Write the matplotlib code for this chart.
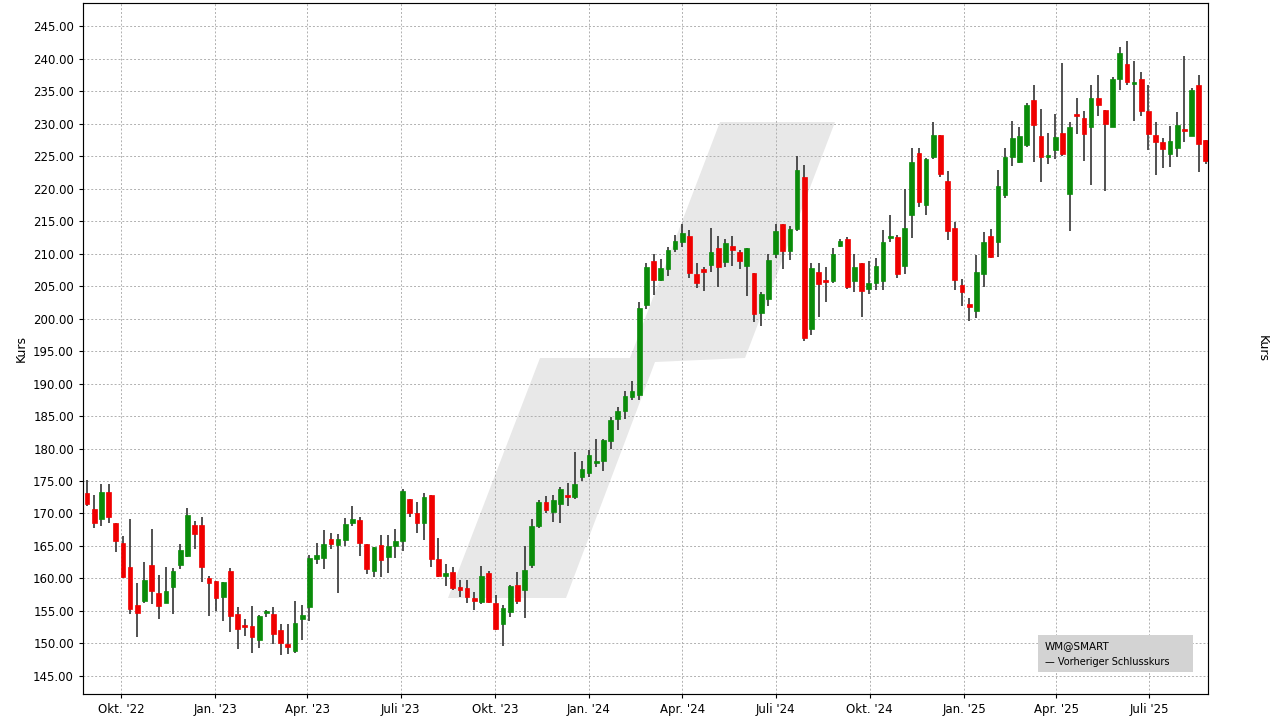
import matplotlib
matplotlib.use("Agg")
import matplotlib.pyplot as plt
import matplotlib.dates as mdates
from matplotlib.patches import Polygon, Rectangle
import numpy as np
import pandas as pd

start_date = "2022-08-29"
opens = [173.2,170.7,169.1,173.3,168.5,165.5,161.7,155.9,156.6,162.1,157.7,156.3,158.7,162.1,163.5,168.2,168.2,160.0,159.6,157.2,161.2,154.6,152.8,152.7,150.6,154.7,154.6,152.1,
         149.9,148.9,153.7,155.6,163.0,163.1,166.0,165.2,165.9,168.5,169.0,165.3,161.2,165.1,163.3,165.0,165.7,172.2,170.0,168.5,172.8,163.0,160.4,161.0,158.7,158.5,156.9,
         156.4,160.9,156.2,153.0,154.9,159.0,158.3,162.1,168.1,171.7,170.3,171.4,172.9,172.6,175.6,176.3,177.8,178.1,181.1,184.5,185.7,188.0,188.2,202.1,208.9,206.0,
         207.6,210.7,211.7,212.7,206.8,207.5,208.2,210.8,208.7,211.1,210.2,208.1,207.0,200.8,203.0,210.0,214.5,210.4,213.7,221.7,198.4,207.1,205.7,205.8,211.2,212.2,
         205.8,208.6,204.5,205.5,205.7,212.4,212.6,208.1,215.9,225.5,217.4,224.9,228.3,221.2,213.9,205.2,202.2,201.2,206.8,212.7,211.7,219.0,224.9,224.1,
         226.7,233.6,228.1,224.8,225.9,228.5,219.2,231.3,230.8,229.4,233.9,232.1,229.5,236.9,239.1,236.1,236.8,231.9,228.3,227.1,225.3,226.2,229.0,228.1,236.0,227.5]
highs = [175.2,172.8,174.5,174.6,168.5,166.5,169.1,159.3,162.6,167.6,160.5,161.7,161.6,165.3,170.8,168.9,169.5,160.4,159.6,159.5,161.6,155.6,153.7,155.7,154.4,155.2,155.6,153.0,
         153.0,156.6,155.9,163.6,165.4,167.5,167.0,166.8,169.3,171.1,169.5,165.3,164.9,166.7,166.7,167.6,173.7,172.2,171.7,173.2,172.8,166.3,162.2,161.7,159.7,159.8,157.9,
         161.9,161.2,157.5,155.9,159.0,161.0,165.0,169.1,172.1,172.7,172.9,174.0,174.7,179.5,178.1,179.8,181.5,181.5,184.9,186.4,188.9,190.4,202.6,208.6,209.9,209.1,
         211.0,212.9,214.5,213.6,208.5,208.0,214.0,212.7,212.3,212.7,210.5,210.8,207.0,204.1,209.9,214.5,214.5,214.2,225.0,223.6,208.5,208.5,207.9,210.8,212.3,212.5,
         210.0,208.6,208.9,209.3,213.6,216.0,212.8,219.9,226.3,226.3,224.7,230.3,228.3,222.7,214.8,206.1,203.1,209.7,213.3,213.7,222.8,226.2,230.4,229.5,
         233.1,235.9,232.2,228.6,231.5,239.3,230.3,233.9,231.9,236.0,237.4,232.1,237.2,241.7,242.7,239.6,237.9,236.0,230.2,227.8,229.6,231.7,240.4,235.5,237.4,227.5]
lows = [171.2,167.7,168.0,168.6,164.0,160.0,154.6,151.0,156.3,156.0,153.7,156.3,154.5,161.4,163.3,164.5,159.4,154.3,155.0,153.4,151.7,149.1,151.1,148.5,149.3,154.1,149.9,148.2,
        148.4,148.5,150.5,153.5,162.2,161.4,164.5,157.8,165.0,168.0,163.5,160.7,160.2,160.2,160.9,163.1,164.3,169.5,167.0,165.9,161.7,160.3,158.8,158.2,157.1,156.3,155.1,
        156.1,156.3,152.0,149.6,154.0,156.0,153.9,161.6,167.7,170.0,168.7,168.6,171.1,172.2,175.0,175.6,177.1,176.6,180.0,182.8,184.6,187.4,187.5,201.4,203.6,205.7,
        206.5,210.3,211.0,206.3,204.7,204.3,207.2,204.9,208.0,208.1,207.6,203.5,199.5,198.8,202.0,209.3,207.6,209.0,213.4,196.5,197.4,200.3,202.6,205.5,211.0,204.6,
        204.1,200.2,203.8,204.4,204.4,211.7,206.3,206.8,212.4,217.1,216.0,224.5,221.8,212.1,204.4,202.0,199.6,200.1,204.9,209.3,209.4,218.5,223.5,224.0,
        226.4,224.1,221.0,223.8,224.5,225.0,213.5,228.4,224.2,220.5,231.2,219.6,229.5,235.2,235.9,230.4,231.1,225.9,222.1,223.1,223.3,224.9,227.1,228.1,222.5,223.7]
closes = [171.5,168.5,173.3,169.4,165.8,160.3,155.3,154.7,159.8,158.0,155.8,158.1,161.2,164.4,169.8,166.8,161.8,159.3,157.0,159.5,154.3,152.2,152.5,151.0,154.2,154.9,151.4,150.1,
          149.4,153.1,154.4,163.1,163.6,165.3,165.3,166.0,168.4,169.1,165.4,161.4,164.9,162.8,165.0,165.7,173.4,170.0,168.6,172.5,163.0,160.4,160.9,158.5,158.2,157.1,156.6,
          160.4,156.4,152.3,155.5,158.8,156.6,161.3,168.1,171.8,170.6,172.0,173.8,172.5,174.5,176.9,179.0,178.0,181.3,184.4,185.8,188.1,188.8,201.6,208.0,205.9,207.7,
          210.5,211.9,213.1,207.0,205.5,207.2,210.2,207.9,211.6,210.5,208.8,210.8,200.7,203.7,209.0,213.5,210.4,213.8,222.8,197.0,207.7,205.3,205.6,210.0,212.0,204.9,
          208.0,204.3,205.5,208.1,211.8,212.7,206.8,214.0,224.1,218.0,224.5,228.2,222.3,213.4,205.9,204.1,201.8,207.2,211.7,209.5,220.4,224.9,227.7,228.1,
          232.9,229.7,224.9,225.0,227.9,225.3,229.4,231.1,228.4,233.9,232.9,229.9,236.8,240.9,236.4,236.4,231.9,228.4,227.2,226.1,227.3,229.8,228.8,235.2,226.9,224.2]

tick_dates = ["2022-10-01","2023-01-01","2023-04-01","2023-07-01","2023-10-01","2024-01-01","2024-04-01",
              "2024-07-01","2024-10-01","2025-01-01","2025-04-01","2025-07-01"]
tick_labels = ["Okt. '22","Jan. '23","Apr. '23","Juli '23","Okt. '23","Jan. '24","Apr. '24",
               "Juli '24","Okt. '24","Jan. '25","Apr. '25","Juli '25"]
y_ticks = np.arange(145, 246, 5)

W, H = 1281, 719
fig = plt.figure(figsize=(W/100, H/100), dpi=100)
ax = fig.add_axes([83/W, 1-694/H, (1208-83)/W, (694-3)/H])

dates = pd.date_range(start_date, periods=len(opens), freq="7D")
x = mdates.date2num(dates)
o, h, l, c = map(np.array, (opens, highs, lows, closes))
up = c >= o
cols = np.where(up, "#0a8c0a", "#f00000")
ax.vlines(x, l, h, color="#333333", lw=1.2, zorder=3)
bw = 4.6
ax.bar(x, np.abs(c-o).clip(0.35), bottom=np.minimum(o, c), width=bw, color=cols,
       edgecolor=cols, linewidth=0.5, zorder=4)

# watermark
pts = [(448,598),(566,598),(655,362),(745,358),(835,122),(720,122),(630,358),(540,358)]
poly = Polygon([(px/W, 1-py/H) for px, py in pts], closed=True, transform=fig.transFigure,
               facecolor="#e8e8e8", edgecolor="none", zorder=0, joinstyle="round")
ax.add_patch(poly)

ax.set_xlim(x[0]-0.56*7, x[0]+156.3*7)
ax.set_ylim(142.23, 248.54)
ax.set_xticks(mdates.date2num(pd.to_datetime(tick_dates)))
ax.set_xticklabels(tick_labels, fontsize=8.5)
ax.set_yticks(y_ticks)
ax.set_yticklabels([f"{v:.2f}" for v in y_ticks], fontsize=8.5)
ax.tick_params(axis="y", which="both", left=True, right=True, labelleft=True, labelright=True, length=3)
ax.tick_params(axis="x", length=3)
ax.grid(True, color="#b0b0b0", linestyle=(0, (2, 2)), linewidth=0.7, zorder=1)
ax.set_axisbelow(True)
for s in ax.spines.values():
    s.set_color("#888888")
ax.set_ylabel("Kurs", fontsize=9)
ax2 = ax.twinx()
ax2.set_ylim(ax.get_ylim())
ax2.set_yticks([])
ax2.set_ylabel("Kurs", fontsize=9, rotation=270, labelpad=44)

# legend box
ax.add_patch(Rectangle((1038/W, 1-672/H), 155/W, 37/H, transform=fig.transFigure,
                       facecolor="#d3d3d3", edgecolor="none", zorder=5))
fig.text(1045/W, 1-646/H, "WM@SMART", fontsize=7.5, va="center", zorder=6)
fig.text(1045/W, 1-662/H, "\u2014 Vorheriger Schlusskurs", fontsize=7, va="center", zorder=6)
fig.savefig("out.png", dpi=100)
